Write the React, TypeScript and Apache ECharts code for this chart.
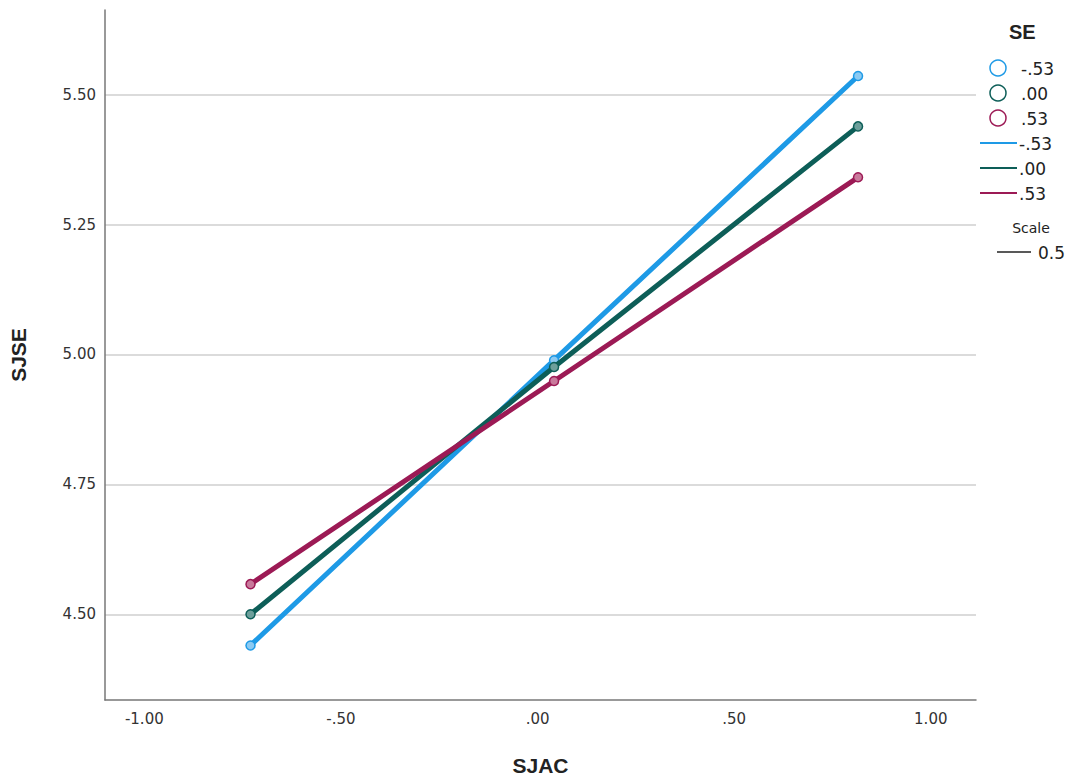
import React, { useEffect, useRef } from "react";
import * as echarts from "echarts";

const xValues = [-0.73, 0.042, 0.815];
const seBlue = [4.44, 4.989, 5.536];
const seGreen = [4.5, 4.976, 5.439];
const seRed = [4.558, 4.949, 5.341];
const seriesNames = ["-.53", ".00", ".53"];
const seriesColors = ["#1E9AE6", "#0D5E58", "#9C1A55"];
const markerFills = ["#8ccaf2", "#6d9f9b", "#c97a9c"];
const xTicks = [-1, -0.5, 0, 0.5, 1];
const yTicks = [4.5, 4.75, 5.0, 5.25, 5.5];

const fmt = (v: number) => {
  const s = Math.abs(v).toFixed(2);
  const t = Math.abs(v) < 1 ? s.replace(/^0/, "") : s;
  return (v < 0 ? "-" : "") + t;
};

export default function App() {
  const ref = useRef<HTMLDivElement>(null);
  useEffect(() => {
    const chart = echarts.init(ref.current!, null, { renderer: "svg" });
    const data = [seBlue, seGreen, seRed];
    const font = "'DejaVu Sans', 'Liberation Sans', sans-serif";
    const boldFont = "'Liberation Sans', Arial, sans-serif";
    const legendX = 998;
    const legendItems: any[] = [
      { type: "text", x: 1009, y: 32, style: { text: "SE", font: `bold 20px ${boldFont}`, fill: "#222", textVerticalAlign: "middle" } },
    ];
    seriesNames.forEach((n, i) => {
      legendItems.push({
        type: "circle",
        shape: { cx: legendX, cy: 68 + i * 25, r: 8 },
        style: { fill: "#fff", stroke: seriesColors[i], lineWidth: 1.5 },
      });
      legendItems.push({
        type: "text",
        x: 1021,
        y: 69 + i * 25,
        style: { text: n, font: `17px ${font}`, fill: "#222", textVerticalAlign: "middle" },
      });
      legendItems.push({
        type: "line",
        shape: { x1: 980, y1: 143 + i * 25, x2: 1017, y2: 143 + i * 25 },
        style: { stroke: seriesColors[i], lineWidth: 2 },
      });
      legendItems.push({
        type: "text",
        x: 1019,
        y: 144 + i * 25,
        style: { text: n, font: `17px ${font}`, fill: "#222", textVerticalAlign: "middle" },
      });
    });
    legendItems.push({
      type: "text",
      x: 1031,
      y: 228,
      style: { text: "Scale", font: `14px ${font}`, fill: "#222", textAlign: "center", textVerticalAlign: "middle" },
    });
    legendItems.push({
      type: "line",
      shape: { x1: 997, y1: 252, x2: 1031, y2: 252 },
      style: { stroke: "#222", lineWidth: 1.5 },
    });
    legendItems.push({
      type: "text",
      x: 1038,
      y: 253,
      style: { text: "0.5", font: `17px ${font}`, fill: "#222", textVerticalAlign: "middle" },
    });

    chart.setOption({
      animation: false,
      backgroundColor: "#fff",
      grid: { left: 101, top: 10, right: 95, bottom: 79 },
      xAxis: {
        type: "value",
        min: -1.1,
        max: 1.115,
        name: "SJAC",
        nameLocation: "middle",
        nameGap: 55,
        nameTextStyle: { fontSize: 21, fontWeight: "bold", color: "#222", fontFamily: boldFont },
        axisLine: { show: true, onZero: false, lineStyle: { color: "#777", width: 1.5 } },
        axisTick: { show: false, customValues: xTicks },
        splitLine: { show: false },
        axisLabel: {
          customValues: xTicks,
          formatter: (v: number) => fmt(v),
          color: "#333",
          fontSize: 15,
          fontFamily: font,
          margin: 11,
        },
      },
      yAxis: {
        type: "value",
        min: 4.335,
        max: 5.663,
        name: "SJSE",
        nameLocation: "middle",
        nameGap: 76,
        nameRotate: 90,
        nameTextStyle: { fontSize: 21, fontWeight: "bold", color: "#222", fontFamily: boldFont },
        axisLine: { show: true, onZero: false, lineStyle: { color: "#777", width: 1.5 } },
        axisTick: { show: false, customValues: yTicks },
        splitLine: { show: true, lineStyle: { color: "#cfcfcf", width: 1.5 } },
        axisLabel: {
          customValues: yTicks,
          formatter: (v: number) => v.toFixed(2),
          color: "#333",
          fontSize: 15,
          fontFamily: font,
          margin: 9,
        },
      },
      graphic: legendItems,
      series: data.map((d, i) => ({
        type: "line",
        name: seriesNames[i],
        data: d.map((y, j) => [xValues[j], y]),
        symbol: "circle",
        symbolSize: 9,
        lineStyle: { color: seriesColors[i], width: 5 },
        itemStyle: { color: markerFills[i], borderColor: seriesColors[i], borderWidth: 1.5 },
        z: 3 + i,
      })),
    });
    return () => chart.dispose();
  }, []);
  return <div ref={ref} style={{ width: 1071, height: 781, position: "absolute", left: 0, top: 0 }} />;
}
